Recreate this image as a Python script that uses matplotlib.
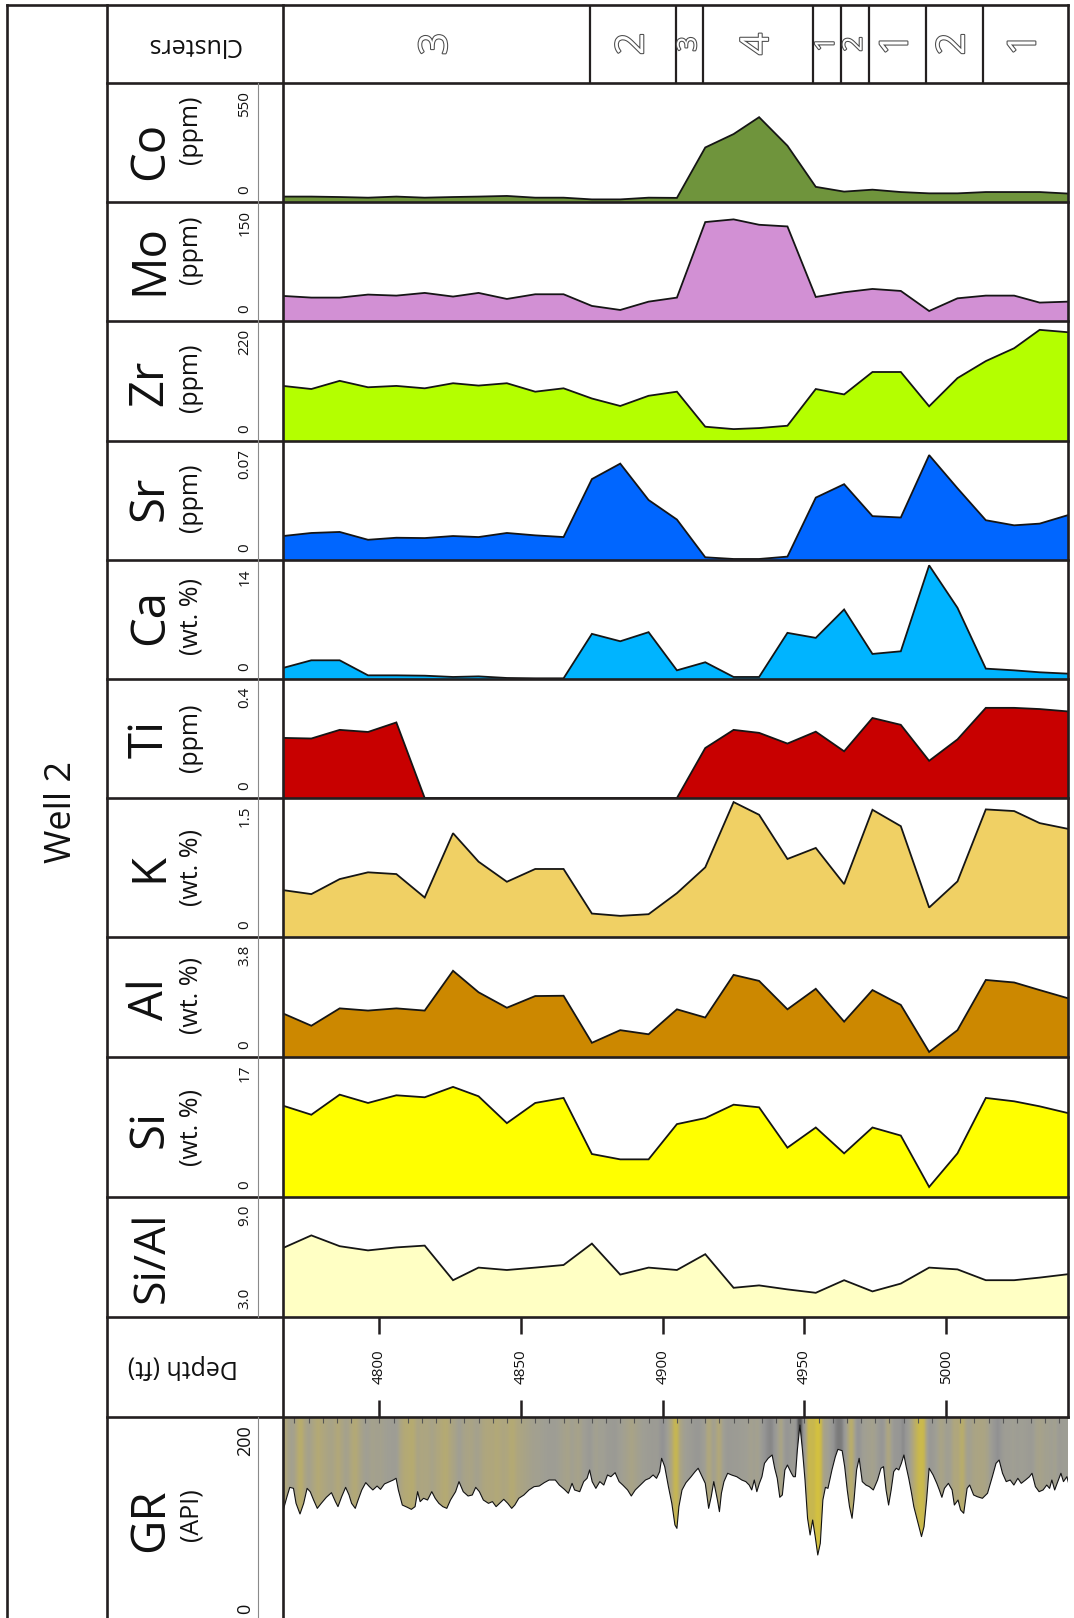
import numpy as np
import matplotlib
matplotlib.use('Agg')
import matplotlib.pyplot as plt
import matplotlib.patheffects as pe
from matplotlib.colors import LinearSegmentedColormap, Normalize
from matplotlib.ticker import MultipleLocator

plt.rcParams['font.family'] = ['Open Sans', 'DejaVu Sans']

# ---------------- data ----------------
depth = [4766, 4776, 4786, 4796, 4806, 4816, 4826, 4835, 4845, 4855, 4865, 4875, 4885, 4895,
         4905, 4915, 4925, 4934, 4944, 4954, 4964, 4974, 4984, 4994, 5004, 5014, 5024, 5033, 5043]
co = [25, 25, 23, 20, 25, 20, 23, 25, 28, 20, 20, 12, 12, 20, 19, 252, 314, 392, 260, 70, 48, 57,
      46, 40, 40, 46, 46, 46, 39]
mo = [31.6, 29.5, 29.5, 33.3, 32.0, 35.4, 30.8, 35.4, 27.8, 33.7, 33.7, 19.0, 13.9, 24.4, 29.5,
      124.7, 128.1, 121.3, 119.2, 30.3, 36.2, 40.4, 37.9, 12.6, 28.6, 32.0, 32.0, 23.2, 24.4]
zr = [101, 95.3, 110.3, 98.5, 101, 96.6, 105.9, 101.6, 105.9, 90.4, 96.6, 77.9, 64.2, 82.9, 90.4,
      26.2, 21.8, 23.7, 28, 95.3, 85.4, 126.5, 126.5, 63.6, 115.3, 146.5, 170.1, 203.8, 199.4]
sr = [0.0141, 0.0159, 0.0165, 0.0119, 0.0131, 0.0129, 0.0141, 0.0135, 0.0159, 0.0145, 0.0135,
      0.0476, 0.0567, 0.0353, 0.0238, 0.0016, 0.0006, 0.0006, 0.0020, 0.0367, 0.0446, 0.0258,
      0.0250, 0.0617, 0.0422, 0.0234, 0.0204, 0.0214, 0.0264]
ca = [1.30, 2.20, 2.20, 0.43, 0.43, 0.39, 0.24, 0.31, 0.12, 0.08, 0.08, 5.31, 4.44, 5.51, 1.02,
      1.97, 0.24, 0.24, 5.43, 4.84, 8.18, 2.95, 3.26, 13.37, 8.38, 1.22, 1.02, 0.79, 0.63]
ti = [0.202, 0.200, 0.229, 0.222, 0.254, 0, 0, 0, 0, 0, 0, 0, 0, 0, 0,
      0.168, 0.229, 0.219, 0.183, 0.223, 0.157, 0.269, 0.246, 0.125, 0.197, 0.303, 0.303, 0.299, 0.291]
k = [0.506, 0.463, 0.625, 0.698, 0.679, 0.426, 1.120, 0.813, 0.596, 0.734, 0.734, 0.253, 0.228,
     0.246, 0.473, 0.752, 1.456, 1.319, 0.842, 0.961, 0.571, 1.373, 1.196, 0.318, 0.600, 1.377,
     1.359, 1.229, 1.167]
al = [1.38, 0.99, 1.54, 1.47, 1.54, 1.47, 2.73, 2.05, 1.56, 1.93, 1.94, 0.45, 0.85, 0.72, 1.51,
      1.25, 2.60, 2.41, 1.51, 2.16, 1.12, 2.12, 1.65, 0.16, 0.85, 2.44, 2.36, 2.12, 1.86]
si = [11.09, 9.99, 12.43, 11.42, 12.35, 12.11, 13.37, 12.23, 8.97, 11.42, 12.03, 5.22, 4.57, 4.57,
      8.85, 9.58, 11.21, 10.89, 5.99, 8.44, 5.30, 8.44, 7.46, 1.22, 5.30, 12.03, 11.62, 11.01, 10.19]
sial = [6.45, 7.08, 6.54, 6.33, 6.48, 6.57, 4.84, 5.47, 5.35, 5.47, 5.60, 6.67, 5.12, 5.47, 5.35,
        6.14, 4.46, 4.58, 4.38, 4.21, 4.84, 4.28, 4.67, 5.47, 5.38, 4.84, 4.84, 4.97, 5.14]

gr_depth = [4766.1, 4767.4, 4768.4, 4769.7, 4770.6, 4772.0, 4773.3, 4774.5, 4775.6, 4776.8, 4778.1,
            4779.5, 4781.3, 4783.1, 4784.5, 4785.4, 4786.7, 4788.1, 4789.3, 4790.2, 4791.5, 4792.5,
            4793.8, 4795.2, 4796.5, 4797.7, 4799.2, 4800.4, 4801.8, 4803.6, 4804.9, 4805.9, 4806.7,
            4808.1, 4809.9, 4811.3, 4812.6, 4813.5, 4814.4, 4815.6, 4817.0, 4818.5, 4819.7, 4821.0,
            4822.4, 4823.8, 4825.1, 4826.9, 4828.1, 4829.6, 4831.3, 4832.8, 4834.0, 4835.3, 4836.7,
            4838.5, 4839.9, 4841.2, 4842.4, 4843.9, 4845.3, 4846.7, 4847.8, 4849.2, 4851.0, 4852.8,
            4854.6, 4856.4, 4858.2, 4859.9, 4862.1, 4863.5, 4865.3, 4866.7, 4868.0, 4868.9, 4870.7,
            4872.1, 4873.3, 4874.2, 4875.1, 4876.4, 4877.8, 4879.2, 4880.5, 4881.7, 4883.2, 4884.6,
            4885.9, 4887.6, 4888.9, 4890.3, 4892.1, 4893.9, 4895.3, 4896.6, 4897.8, 4898.9, 4899.6,
            4900.7, 4902.0, 4903.2, 4904.3, 4905.0, 4905.7, 4906.8, 4908.2, 4910.0, 4911.4, 4912.5,
            4913.6, 4915.0, 4916.2, 4917.1, 4918.0, 4919.3, 4920.0, 4920.7, 4921.6, 4922.9, 4924.3,
            4926.1, 4927.9, 4929.3, 4930.5, 4931.4, 4932.3, 4933.2, 4934.1, 4935.0, 4935.9, 4937.2,
            4938.6, 4939.5, 4940.4, 4941.3, 4942.2, 4943.1, 4944.0, 4945.4, 4946.1, 4946.8, 4947.5,
            4948.4, 4949.3, 4950.2, 4951.1, 4952.0, 4952.9, 4953.8, 4954.7, 4955.6, 4956.5, 4957.4,
            4958.3, 4959.7, 4960.9, 4961.8, 4963.3, 4964.2, 4965.1, 4965.9, 4966.8, 4967.5, 4968.4,
            4969.3, 4970.4, 4971.7, 4972.9, 4974.3, 4975.8, 4977.0, 4977.9, 4978.8, 4979.7, 4980.6,
            4981.5, 4982.4, 4983.3, 4984.2, 4985.1, 4985.9, 4986.8, 4987.7, 4988.6, 4990.1, 4991.3,
            4992.2, 4993.1, 4994.0, 4995.4, 4996.7, 4997.6, 4998.5, 4999.4, 5000.8, 5002.1, 5002.9,
            5004.2, 5005.1, 5006.2, 5007.4, 5008.3, 5009.7, 5011.0, 5012.8, 5014.6, 5016.3, 5017.6,
            5018.7, 5019.9, 5021.2, 5022.6, 5023.9, 5025.3, 5026.5, 5028.0, 5029.4, 5030.3, 5031.5,
            5032.8, 5034.2, 5035.5, 5036.5, 5037.3, 5038.3, 5039.6, 5040.5, 5041.4, 5042.6, 5043.7]
gr_api = [107.5, 120.7, 130.0, 129.0, 114.1, 103.5, 114.1, 129.0, 125.7, 117.4, 109.1,
          114.1, 120.1, 124.7, 115.8, 110.8, 120.7, 130.0, 122.4, 114.1, 109.1, 117.4,
          127.4, 134.7, 130.7, 127.4, 131.3, 128.0, 133.4, 135.7, 137.3, 139.0, 127.4,
          112.4, 110.1, 108.1, 110.8, 125.7, 115.8, 119.1, 117.4, 125.7, 119.1, 114.1,
          110.8, 109.1, 117.4, 125.7, 135.7, 125.7, 121.4, 122.4, 130.0, 125.7, 117.4,
          114.1, 115.8, 110.8, 114.1, 118.1, 114.1, 109.1, 112.4, 119.1, 122.4, 127.4,
          130.7, 131.3, 134.7, 137.3, 137.3, 132.3, 128.0, 124.1, 134.0, 127.4, 125.7,
          135.7, 139.0, 147.3, 135.7, 129.0, 135.7, 132.3, 142.3, 140.6, 144.6, 135.7,
          132.3, 127.4, 121.4, 127.4, 132.3, 137.3, 139.0, 142.3, 139.0, 145.6, 158.9,
          150.6, 130.7, 114.1, 92.6, 89.2, 110.8, 127.4, 134.7, 140.6, 145.6, 149.0,
          142.3, 134.0, 109.1, 120.7, 135.7, 117.4, 105.8, 124.1, 135.7, 144.0, 142.3,
          140.6, 137.3, 135.7, 132.3, 127.4, 137.3, 125.7, 134.0, 140.6, 153.9, 158.9,
          162.2, 149.0, 139.0, 120.1, 122.4, 147.3, 152.2, 144.0, 140.6, 140.6, 167.2,
          192.0, 167.2, 137.3, 99.2, 82.6, 97.5, 81.0, 62.7, 74.3, 117.4, 130.0,
          129.0, 147.3, 160.5, 167.8, 166.5, 150.6, 127.4, 110.8, 99.2, 117.4, 147.3,
          158.9, 135.7, 132.3, 130.7, 127.4, 137.3, 149.0, 150.6, 127.4, 112.4, 127.4,
          145.6, 149.0, 147.3, 153.9, 162.2, 150.6, 139.0, 125.7, 110.8, 94.2, 81.0,
          90.9, 117.4, 149.0, 142.3, 134.0, 127.4, 120.1, 129.0, 134.0, 127.4, 112.4,
          117.4, 107.5, 104.2, 129.0, 132.3, 122.4, 120.7, 119.1, 124.1, 140.6, 153.9,
          157.2, 144.0, 135.7, 137.3, 132.3, 139.0, 134.0, 137.3, 140.6, 144.0, 130.7,
          125.7, 127.4, 132.3, 129.0, 137.3, 127.4, 137.3, 144.0, 135.7, 140.6, 129.0]

cluster_tops = [4766, 4874.5, 4904.7, 4914.2, 4953.1, 4963.0, 4972.8, 4992.8, 5012.9]
cluster_bases = [4874.5, 4904.7, 4914.2, 4953.1, 4963.0, 4972.8, 4992.8, 5012.9, 5043]
cluster_ids = ['3', '2', '3', '4', '1', '2', '1', '2', '1']

depth_ticks = [4800, 4850, 4900, 4950, 5000]

track_names = ['Co', 'Mo', 'Zr', 'Sr', 'Ca', 'Ti', 'K', 'Al', 'Si', 'Si/Al']
track_units = ['(ppm)', '(ppm)', '(ppm)', '(ppm)', '(wt. %)', '(ppm)', '(wt. %)', '(wt. %)', '(wt. %)', '']
track_values = [co, mo, zr, sr, ca, ti, k, al, si, sial]
scale_min = [0, 0, 0, 0, 0, 0, 0, 0, 0, 3.0]
scale_max = [550, 150, 220, 0.07, 14, 0.4, 1.5, 3.8, 17, 9.0]
scale_min_lbl = ['0', '0', '0', '0', '0', '0', '0', '0', '0', '3.0']
scale_max_lbl = ['550', '150', '220', '0.07', '14', '0.4', '1.5', '3.8', '17', '9.0']
track_colors = ['#6F943C', '#D290D4', '#B4FF00', '#0066FF', '#00B4FF', '#C80000',
                '#F0D064', '#CC8800', '#FFFF00', '#FFFFC4']

# ---------------- layout (pixels) ----------------
W, H = 1074, 1618
XL, XR = 283, 1068
DMIN, DMAX = 4766, 5043
track_y = [(83, 202), (202, 321), (321, 441), (441, 560), (560, 679), (679, 798),
           (798, 937), (937, 1057), (1057, 1197), (1197, 1317)]
clus_y = (5, 83)
depth_y = (1317, 1417)
gr_y = (1417, 1618)
INK = '#231F20'
TXT = '#111111'
LW = 1.9

fig = plt.figure(figsize=(W / 100, H / 100), dpi=100)


def add_ax(y0, y1):
    return fig.add_axes([XL / W, 1 - y1 / H, (XR - XL) / W, (y1 - y0) / H])


def clean(ax):
    for s in ax.spines.values():
        s.set_visible(False)
    ax.set_xticks([])
    ax.set_yticks([])


# geochem tracks
for (y0, y1), vals, lo, hi, col in zip(track_y, track_values, scale_min, scale_max, track_colors):
    ax = add_ax(y0, y1)
    ax.fill_between(depth, lo, vals, facecolor=col, edgecolor='none')
    ax.plot(depth, vals, color='#151515', lw=1.3, solid_joinstyle='miter')
    ax.set_xlim(DMIN, DMAX)
    ax.set_ylim(lo, hi)
    clean(ax)

# clusters
axc = add_ax(*clus_y)
axc.set_xlim(DMIN, DMAX)
axc.set_ylim(0, 1)
clean(axc)
for t, b, cid in zip(cluster_tops, cluster_bases, cluster_ids):
    if t > DMIN:
        axc.axvline(t, color=INK, lw=1.6)
    size = 19 if (b - t) < 12 else 28
    axc.text((t + b) / 2, 0.5, cid, rotation=90, ha='center', va='center', fontsize=size,
             color='white',
             path_effects=[pe.Stroke(linewidth=1.5, foreground='#4a4a4a'), pe.Normal()])

# depth track
axd = add_ax(*depth_y)
axd.set_xlim(DMIN, DMAX)
axd.set_ylim(0, 1)
for s in axd.spines.values():
    s.set_visible(False)
axd.set_yticks([])
axd.set_xticks(depth_ticks)
axd.tick_params(axis='x', which='major', direction='in', length=12, width=1.8, color=INK,
                top=True, bottom=True, labelbottom=False, labeltop=False)
for t in depth_ticks:
    axd.text(t, 0.5, str(t), rotation=90, ha='center', va='center', fontsize=11,
             color=TXT, transform=axd.get_xaxis_transform())

# GR track
axg = add_ax(*gr_y)
axg.set_xlim(DMIN, DMAX)
axg.set_ylim(0, 200)
for s in axg.spines.values():
    s.set_visible(False)
axg.set_yticks([])
axg.set_xticks([])
axg.xaxis.set_minor_locator(MultipleLocator(5))
axg.tick_params(axis='x', which='minor', direction='in', top=True, bottom=False,
                length=4, width=0.8, color='#555555')
cmap = LinearSegmentedColormap.from_list('gr', [
    (0.0, '#D8C43A'), (0.28, '#C6B652'), (0.45, '#B0A77C'), (0.62, '#A09F94'),
    (0.78, '#959595'), (0.90, '#7A7A7A'), (1.0, '#555555')])
norm = Normalize(60, 180)
xs = np.linspace(DMIN, DMAX, 900)
gv = np.interp(xs, gr_depth, gr_api)
kern = np.ones(5) / 5
gv = np.convolve(np.pad(gv, 2, mode='edge'), kern, mode='valid')
img = cmap(norm(gv))[None, :, :]
poly = axg.fill_between(gr_depth, gr_api, 200, facecolor='none', edgecolor='none')
im = axg.imshow(img, extent=[DMIN, DMAX, 0, 200], aspect='auto', origin='lower',
                interpolation='bilinear', zorder=1)
im.set_clip_path(poly.get_paths()[0], transform=axg.transData)
axg.plot(gr_depth, gr_api, color='#111111', lw=0.8, zorder=3)
axg.set_xlim(DMIN, DMAX)
axg.set_ylim(0, 200)

# ---------------- overlay: frame and header text ----------------
ax0 = fig.add_axes([0, 0, 1, 1], zorder=10)
ax0.set_xlim(0, W)
ax0.set_ylim(H, 0)
ax0.axis('off')
ax0.patch.set_alpha(0)

lines = [([7, 7], [5, H]), ([7, XR], [5, 5]), ([XR, XR], [5, 1417]),
         ([107, 107], [5, H]), ([XL, XL], [5, H])]
for y in [83, 202, 321, 441, 560, 679, 798, 937, 1057, 1197, 1317, 1417]:
    lines.append(([107, XR], [y, y]))
for xx, yy in lines:
    ax0.plot(xx, yy, color=INK, lw=LW, solid_capstyle='projecting')
ax0.plot([258, 258], [83, 1317], color='#8a8a8a', lw=0.8)
ax0.plot([258, 258], [1417, H], color='#8a8a8a', lw=0.8)

ax0.text(62, 812, 'Well 2', rotation=90, ha='center', va='center', fontsize=26, color=TXT)
ax0.text(193, 44, 'Clusters', rotation=180, ha='center', va='center', fontsize=18, color=TXT)
ax0.text(183, 1367, 'Depth (ft)', rotation=180, ha='center', va='center', fontsize=18,
         color=TXT)

elem_dy = [8, -2, 2, -2, -3, 0, 0, 2, 2, 0]
unit_dy = [-13, -12, -3, -3, -3, -1, 0, -1, 0, 0]
for (y0, y1), name, unit, lmin, lmax, edy, udy in zip(track_y, track_names, track_units,
                                                       scale_min_lbl, scale_max_lbl,
                                                       elem_dy, unit_dy):
    cy = (y0 + y1) / 2
    if unit:
        ax0.text(150, cy + edy, name, rotation=90, ha='center', va='center', fontsize=34,
                 color=TXT)
        ax0.text(191, cy + udy, unit, rotation=90, ha='center', va='center', fontsize=18,
                 color=TXT)
    else:
        ax0.text(152, cy, name, rotation=90, ha='center', va='center', fontsize=32,
                 color=TXT)
    ax0.text(245, y0 + 8, lmax, rotation=90, ha='center', va='top', fontsize=11, color=TXT)
    ax0.text(245, y1 - 8, lmin, rotation=90, ha='center', va='bottom', fontsize=11,
             color=TXT)

ax0.text(150, 1520, 'GR', rotation=90, ha='center', va='center', fontsize=34, color=TXT)
ax0.text(191, 1515, '(API)', rotation=90, ha='center', va='center', fontsize=18, color=TXT)
ax0.text(245, 1425, '200', rotation=90, ha='center', va='top', fontsize=13, color=TXT)
ax0.text(245, 1614, '0', rotation=90, ha='center', va='bottom', fontsize=13, color=TXT)

fig.savefig('out.png', dpi=100)
